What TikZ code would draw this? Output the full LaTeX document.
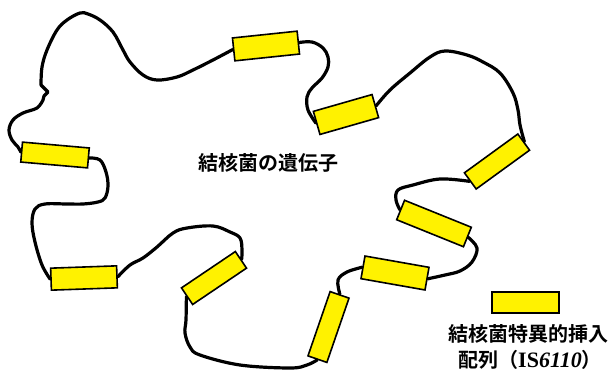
\documentclass[tikz,border=0pt]{standalone}
\usepackage{fontspec}
\newfontfamily\jpfont{Noto Sans CJK JP}[BoldFont={Noto Sans CJK JP Bold}]
\newfontfamily\serfont{Liberation Serif}
\usetikzlibrary{backgrounds}
\tikzset{
insert/.style 2 args={draw,fill=yellow,line width=1.6pt,minimum width=#1,minimum height=#2,inner sep=0pt},
strand/.style={line width=3.2pt,line join=round,line cap=round},
jptext/.style={font=\jpfont\bfseries\fontsize{20}{24}\selectfont,inner sep=0pt}
}

\begin{document}
\begin{tikzpicture}[x=1pt,y=-1pt]
\useasboundingbox (0,0) rectangle (616,372);
% IS6110 copies along the chromosome
\node[insert={65pt}{23pt},rotate=6](is1) at (266,46){};
\node[insert={61pt}{24pt},rotate=16](is2) at (346,114.5){};
\node[insert={66pt}{20pt},rotate=36](is3) at (497,161.5){};
\node[insert={72pt}{21pt},rotate=-22](is4) at (434,223.5){};
\node[insert={65pt}{23pt},rotate=-10](is5) at (395,273){};
\node[insert={68pt}{20pt},rotate=71](is6) at (328.5,327){};
\node[insert={65pt}{20pt},rotate=34](is7) at (214,278){};
\node[insert={66pt}{22pt},rotate=2](is8) at (84,278){};
\node[insert={67pt}{20pt},rotate=-5](is9) at (55,155){};
% the DNA strand between them
\begin{scope}[on background layer]
\draw[strand] plot[smooth,tension=.6] coordinates {(is1.west) (213,60) (193,70) (177,77) (157,80) (143,75) (130,62) (123,50) (113,32) (100,20) (88,14) (80,13) (67,20) (57,30) (47,50) (42,67) (41,85)}
  -- (48,92) -- (44,96)
  -- plot[smooth,tension=.6] coordinates {(43,100) (37,108) (23,113) (13,120) (9,130) (12,140) (18,147) (is9.west)};
\draw[strand] plot[smooth,tension=.6] coordinates {(is9.east) (100,160) (106,172) (108,186) (105,198) (98,202) (83,204) (67,204) (45,204) (35,209) (32,223) (35,242) (42,265) (is8.west)};
\draw[strand] plot[smooth,tension=.6] coordinates {(is8.east) (130,265) (143,258) (157,247) (173,233) (187,228) (213,226) (230,232) (240,238) (242,250) (is7.east)};
\draw[strand] plot[smooth,tension=.6] coordinates {(is7.west) (186,320) (185,333) (190,347) (200,355) (240,365) (290,368) (307,365) (is6.west)};
\draw[strand] plot[smooth,tension=.6] coordinates {(is6.east) (338,280) (347,272) (is5.west)};
\draw[strand] plot[smooth,tension=.6] coordinates {(is5.east) (445,275) (460,271) (472,262) (477,248) (is4.east)};
\draw[strand] plot[smooth,tension=.6] coordinates {(is4.west) (396,200) (398,190) (413,185) (440,179) (is3.west)};
\draw[strand] plot[smooth,tension=.6] coordinates {(is3.east) (520,125) (518,110) (513,93) (500,73) (483,62) (467,55) (445,51) (430,57) (410,73) (390,90) (is2.east)};
\draw[strand] plot[smooth,tension=.6] coordinates {(is2.west) (308,110) (307,97) (312,88) (322,78) (328,67) (328,57) (323,48) (312,42) (is1.east)};
\end{scope}
\node[jptext](gene) at (268,163){結核菌の遺伝子};
% key
\node[insert={67pt}{21pt}](key) at (525.5,302.5){};
\node[jptext,anchor=west](keyA) at (448,334){結核菌特異的挿入};
\node[jptext,anchor=west](keyB) at (458,360){配列（{\serfont\fontsize{22}{24}\selectfont IS\itshape 6110}）};
\end{tikzpicture}
\end{document}
